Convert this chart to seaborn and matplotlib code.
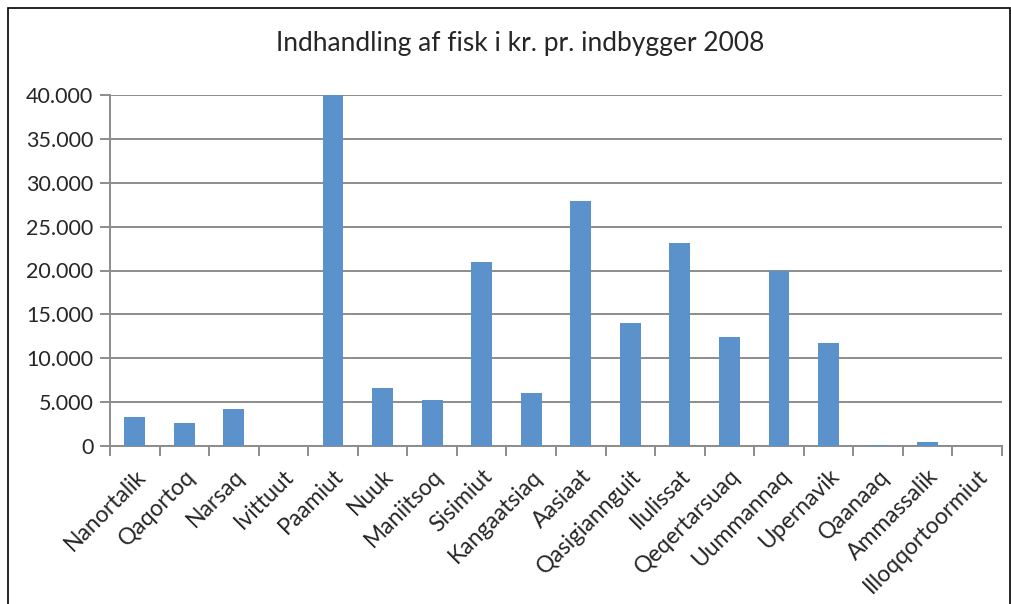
import matplotlib.pyplot as plt
import seaborn as sns
import pandas as pd
from matplotlib.ticker import FuncFormatter, FixedLocator
from matplotlib.patches import Rectangle

byer = ['Nanortalik', 'Qaqortoq', 'Narsaq', 'Ivittuut', 'Paamiut', 'Nuuk',
        'Maniitsoq', 'Sisimiut', 'Kangaatsiaq', 'Aasiaat', 'Qasigiannguit',
        'Ilulissat', 'Qeqertarsuaq', 'Uummannaq', 'Upernavik', 'Qaanaaq',
        'Ammassalik', 'Illoqqortoormiut']
kr_pr_indbygger = [3350, 2650, 4250, 0, 41000, 6600, 5200, 21000, 6050, 27950,
                   14000, 23100, 12400, 19900, 11700, 100, 450, 0]
y_ticks = [0, 5000, 10000, 15000, 20000, 25000, 30000, 35000, 40000]

df = pd.DataFrame({'by': byer, 'kr': kr_pr_indbygger})

sns.set_style('white')
plt.rcParams['font.family'] = ['Lato', 'DejaVu Sans']

fig = plt.figure(figsize=(10.12, 6.04), dpi=100)
ax = fig.add_axes([110 / 1012, 1 - 446 / 604, 892 / 1012, 351 / 604])

sns.barplot(data=df, x='by', y='kr', color='#5B92CB', width=0.42, ax=ax,
            saturation=1, linewidth=0, zorder=3)

ax.set_ylim(0, 40000)
ax.set_xlim(-0.5, len(byer) - 0.5)
ax.yaxis.set_major_locator(FixedLocator(y_ticks))
ax.yaxis.set_major_formatter(FuncFormatter(lambda v, p: '0' if v == 0 else f'{int(v):,}'.replace(',', '.')))
ax.grid(axis='y', color='#8c8c8c', linewidth=1.4, zorder=0)
ax.set_xlabel('')
ax.set_ylabel('')

for s in ['top', 'right']:
    ax.spines[s].set_visible(False)
for s in ['left', 'bottom']:
    ax.spines[s].set_color('#8c8c8c')
    ax.spines[s].set_linewidth(1.4)

ax.set_xticks(range(len(byer)))
ax.set_xticklabels(byer, rotation=45, ha='right', rotation_mode='anchor', fontsize=16.5)
ax.tick_params(axis='x', length=0, pad=14)
ax.set_xticks([i - 0.5 for i in range(len(byer) + 1)], minor=True)
ax.tick_params(axis='x', which='minor', length=7, color='#8c8c8c', width=1.4, bottom=True)
ax.tick_params(axis='y', length=7, color='#8c8c8c', width=1.4, labelsize=15.5, left=True, pad=5)

fig.text(520 / 1012, 1 - 44 / 604, 'Indhandling af fisk i kr. pr. indbygger 2008',
         ha='center', va='center', fontsize=19)

fig.patches.append(Rectangle((8 / 1012, -0.01), 1002 / 1012, 1 - 8 / 604 + 0.01,
                             transform=fig.transFigure, fill=False,
                             edgecolor='black', linewidth=1.2))

plt.savefig('out.png', dpi=100)
plt.close()
